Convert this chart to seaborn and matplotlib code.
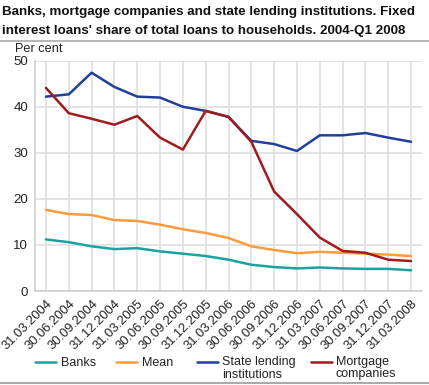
import matplotlib
matplotlib.use("Agg")
import matplotlib.pyplot as plt
from matplotlib.lines import Line2D
import seaborn as sns
import pandas as pd

dates = ["31.03.2004", "30.06.2004", "30.09.2004", "31.12.2004", "31.03.2005",
         "30.06.2005", "30.09.2005", "31.12.2005", "31.03.2006", "30.06.2006",
         "30.09.2006", "31.12.2006", "31.03.2007", "30.06.2007", "30.09.2007",
         "31.12.2007", "31.03.2008"]
banks = [11.2, 10.6, 9.7, 9.1, 9.3, 8.6, 8.1, 7.6, 6.8, 5.7, 5.2, 4.9, 5.1, 4.9, 4.8, 4.8, 4.5]
mean = [17.6, 16.7, 16.5, 15.4, 15.2, 14.4, 13.4, 12.6, 11.5, 9.7, 8.9, 8.2, 8.5, 8.3, 8.1, 7.9, 7.6]
state = [42.2, 42.7, 47.4, 44.3, 42.2, 42.0, 40.0, 39.1, 37.8, 32.6, 31.9, 30.4, 33.8, 33.8, 34.3, 33.3, 32.4]
mortgage = [44.1, 38.6, 37.4, 36.1, 38.0, 33.3, 30.7, 39.1, 37.8, 32.4, 21.6, 16.7, 11.6, 8.7, 8.3, 6.8, 6.5]

series_names = ["Banks", "Mean", "State lending\ninstitutions", "Mortgage\ncompanies"]
series_vals = [banks, mean, state, mortgage]
colors = ["#1aa39c", "#ff9b3a", "#213f98", "#9e1b20"]

rows = []
for name, vals in zip(series_names, series_vals):
    for i, v in enumerate(vals):
        rows.append({"idx": i, "value": v, "series": name})
df = pd.DataFrame(rows)

sns.set_theme(style="white")
plt.rcParams["font.family"] = ["Liberation Sans", "DejaVu Sans"]

W, H = 429, 385
fig = plt.figure(figsize=(W / 100, H / 100), dpi=100)
ax = fig.add_axes([35 / W, (H - 291) / H, (422 - 35) / W, (291 - 60.7) / H])

sns.lineplot(data=df, x="idx", y="value", hue="series", palette=colors,
             hue_order=series_names, linewidth=1.8, ax=ax, legend=False)

ax.set_xlim(-0.48, 16.48)
ax.set_ylim(0, 50)
ax.set_yticks([0, 10, 20, 30, 40, 50])
ax.set_xticks(range(len(dates)))
ax.set_xticklabels(dates, rotation=45, ha="right", rotation_mode="anchor", fontsize=9.4, color="#222222")
ax.tick_params(axis="y", labelsize=9.5, labelcolor="#222222", length=3, color="#cccccc", pad=2)
ax.tick_params(axis="x", length=3, color="#cccccc", pad=2)
ax.grid(True, color="#dddddd", linewidth=1.1)
ax.set_axisbelow(True)
for s in ["top", "right"]:
    ax.spines[s].set_visible(False)
for s in ["left", "bottom"]:
    ax.spines[s].set_color("#cccccc")
    ax.spines[s].set_linewidth(1.1)
ax.set_xlabel("")
ax.set_ylabel("")

def fy(y):
    return 1 - y / H

fig.text(2 / W, fy(15), "Banks, mortgage companies and state lending institutions. Fixed",
         fontsize=9.6, fontweight="bold", va="baseline", ha="left", color="#111111")
fig.text(2 / W, fy(34), "interest loans' share of total loans to households. 2004-Q1 2008",
         fontsize=9.6, fontweight="bold", va="baseline", ha="left", color="#111111")
fig.text(15 / W, fy(48.5), "Per cent", fontsize=9.2, va="center", ha="left", color="#222222")

fig.add_artist(Line2D([0, 1], [fy(41), fy(41)], color="#aaaaaa", linewidth=1.2))
fig.add_artist(Line2D([0, 1], [fy(383), fy(383)], color="#aaaaaa", linewidth=1.5))

# legend (manual, handles aligned with the first label line)
leg_x = [(35, 56, 61), (116, 137, 142), (197, 218, 222), (311, 332, 336)]
for (x0, x1, xt), name, c in zip(leg_x, series_names, colors):
    fig.add_artist(Line2D([x0 / W, x1 / W], [fy(362), fy(362)], color=c, linewidth=1.8))
    fig.text(xt / W, fy(356.5), name, fontsize=9, va="top", ha="left", color="#222222",
             linespacing=1.0)

fig.savefig("out.png", dpi=100)
